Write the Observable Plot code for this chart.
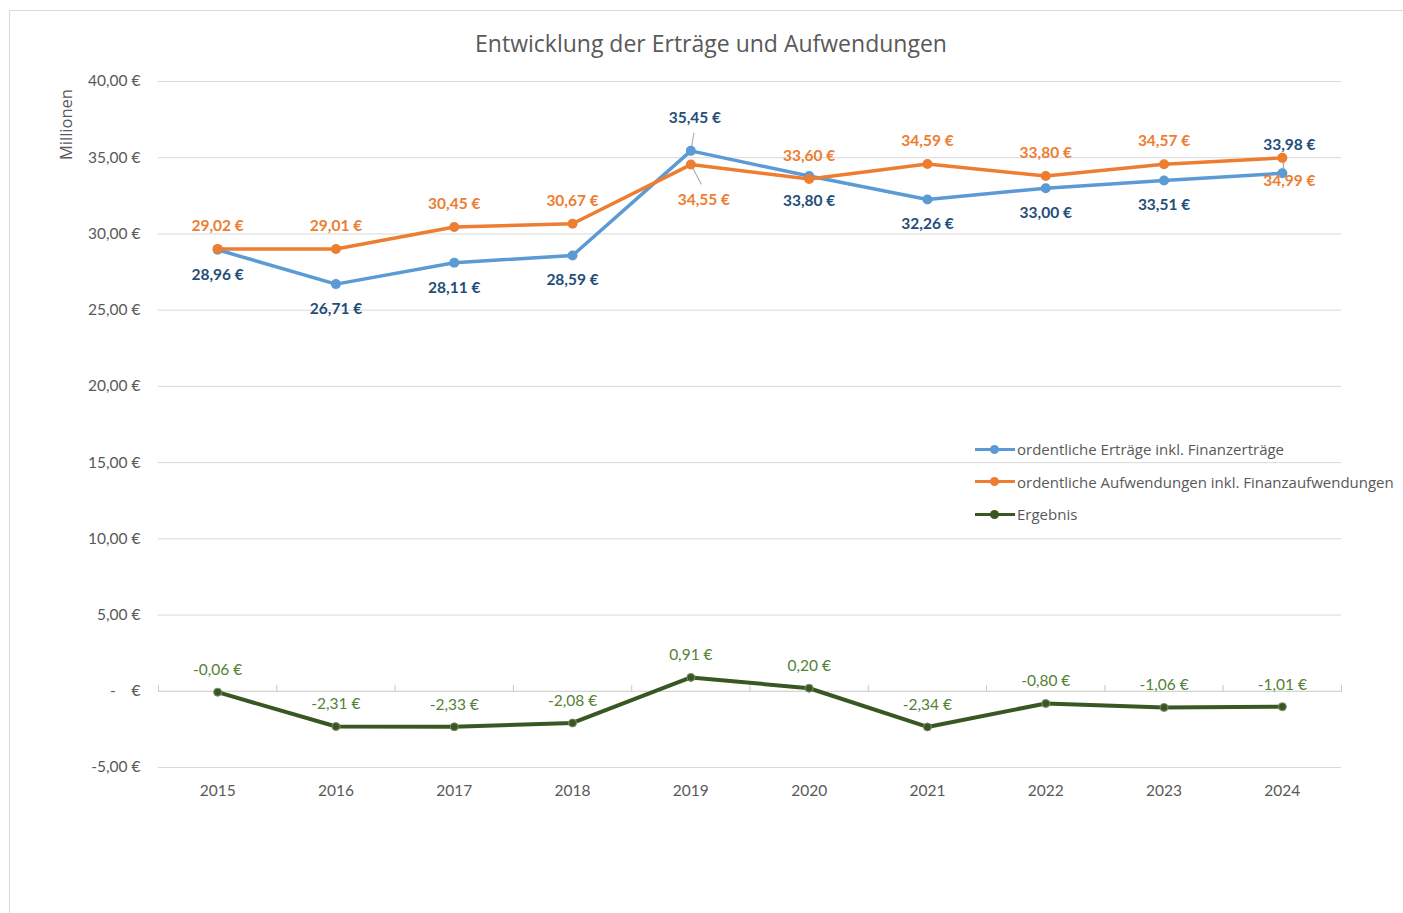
<!DOCTYPE html>
<html>
<head>
<meta charset="utf-8">
<script src="https://cdn.jsdelivr.net/npm/d3@7"></script>
<script src="https://cdn.jsdelivr.net/npm/@observablehq/plot@0.6"></script>
<style>
  html, body { margin: 0; padding: 0; background: #fff; }
  #wrap { position: relative; width: 1403px; height: 913px; overflow: hidden; font-family: "Open Sans", sans-serif; }
  #frame { position: absolute; left: 9px; top: 10px; width: 1400px; height: 910px; border: 1px solid #d9d9d9; box-sizing: border-box; }
  #title { position: absolute; left: 711px; top: 27px; transform: translateX(-50%); font-size: 23px; color: #595959; white-space: nowrap; line-height: 32px; }
  #chart { position: absolute; left: 0; top: 0; }
  #legend { position: absolute; left: 975px; top: 438px; font-family: "Open Sans", sans-serif; font-size: 15px; color: #595959; }
  .item { display: flex; align-items: center; height: 22px; margin-bottom: 10.5px; white-space: nowrap; }
  .sw { position: relative; width: 40px; height: 22px; margin-right: 2px; }
  .sw .ln { position: absolute; left: 0; top: 9.5px; width: 40px; height: 3px; }
  .sw .dt { position: absolute; left: 15px; top: 6.5px; width: 9px; height: 9px; border-radius: 50%; }
</style>
</head>
<body>
<div id="wrap">
  <div id="frame"></div>
  <div id="title">Entwicklung der Erträge und Aufwendungen</div>
  <div id="chart"></div>
  <div id="legend"></div>
</div>
<script>
// ---- data ----
const years = [2015, 2016, 2017, 2018, 2019, 2020, 2021, 2022, 2023, 2024];
const ertraege = [28.96, 26.71, 28.11, 28.59, 35.45, 33.80, 32.26, 33.00, 33.51, 33.98];
const aufwendungen = [29.02, 29.01, 30.45, 30.67, 34.55, 33.60, 34.59, 33.80, 34.57, 34.99];
const ergebnis = [-0.06, -2.31, -2.33, -2.08, 0.91, 0.20, -2.34, -0.80, -1.06, -1.01];
const yTicks = [-5, 0, 5, 10, 15, 20, 25, 30, 35, 40];
const seriesNames = [
  "ordentliche Erträge inkl. Finanzerträge",
  "ordentliche Aufwendungen inkl. Finanzaufwendungen",
  "Ergebnis"
];
// years where the two upper labels were moved manually (with leader lines)
const swappedYears = [2019, 2024];

// ---- styles / label nudges (pixels) ----
const C = {
  blue: "#5B9BD5", blueLabel: "#1F4E79",
  orange: "#ED7D31", orangeLabel: "#ED7D31",
  green: "#385723", greenLabel: "#548235",
  grid: "#d9d9d9", text: "#595959", leader: "#a6a6a6"
};
const nudges = {
  2019: {e: {dx: 4, dy: -33, len: 18, rot: 10}, a: {dx: 13, dy: 35, len: 22, rot: 152}},
  2024: {e: {dx: 7, dy: -28, len: 12, rot: 8}, a: {dx: 7, dy: 23, len: 12, rot: 172}}
};

const fmtNum = d3.formatLocale({decimal: ",", thousands: ".", grouping: [3], currency: ["", " €"], minus: "-"}).format(",.2f");
const money = v => fmtNum(v) + " €";
const tickFmt = v => v === 0 ? "-\u00a0\u00a0\u00a0\u00a0€" : money(v);

const rows = (vals, name) => years.map((year, i) => ({year, value: vals[i], name}));
const eRows = rows(ertraege, seriesNames[0]);
const aRows = rows(aufwendungen, seriesNames[1]);
const gRows = rows(ergebnis, seriesNames[2]);

const isSw = d => swappedYears.includes(d.year);
const boundaries = years.map(y => y - 0.5).concat([years[years.length - 1] + 0.5]);

const lineShape = {draw(ctx, l) { ctx.moveTo(0, 0); ctx.lineTo(0, -l); }};
const labelFont = {fontFamily: "Lato, sans-serif", fontSize: 15.5};
const axisFont = {fontFamily: "Lato, sans-serif", fontSize: 15.5};

const swappedMarks = swappedYears.flatMap(yr => {
  const n = nudges[yr];
  const e = eRows.filter(d => d.year === yr);
  const a = aRows.filter(d => d.year === yr);
  return [
    Plot.vector(e, {x: "year", y: "value", length: n.e.len, rotate: n.e.rot, anchor: "start", shape: lineShape, stroke: C.leader, strokeWidth: 1}),
    Plot.vector(a, {x: "year", y: "value", length: n.a.len, rotate: n.a.rot, anchor: "start", shape: lineShape, stroke: C.leader, strokeWidth: 1})
  ];
});
const swappedLabels = swappedYears.flatMap(yr => {
  const n = nudges[yr];
  return [
    Plot.text(eRows.filter(d => d.year === yr), {x: "year", y: "value", text: d => money(d.value), dx: n.e.dx, dy: n.e.dy, fill: C.blueLabel, fontWeight: "bold", ...labelFont}),
    Plot.text(aRows.filter(d => d.year === yr), {x: "year", y: "value", text: d => money(d.value), dx: n.a.dx, dy: n.a.dy, fill: C.orangeLabel, fontWeight: "bold", ...labelFont})
  ];
});

const plot = Plot.plot({
  width: 1403,
  height: 913,
  marginLeft: 158,
  marginRight: 62,
  marginTop: 81,
  marginBottom: 146,
  style: {fontFamily: "Lato, sans-serif", fontSize: "14px", color: C.text, background: "transparent"},
  x: {type: "linear", domain: [years[0] - 0.5, years[years.length - 1] + 0.5], axis: null},
  y: {domain: [-5, 40], axis: null},
  marks: [
    Plot.ruleY(yTicks, {stroke: v => v === 0 ? "#c8c8c8" : C.grid, strokeWidth: 1}),
    Plot.vector(boundaries, {x: d => d, y: 0, length: 6, rotate: 0, anchor: "start", shape: lineShape, stroke: "#c8c8c8", strokeWidth: 1}),
    // y axis labels
    Plot.text(yTicks, {x: years[0] - 0.5, y: d => d, text: tickFmt, textAnchor: "end", dx: -18, fill: C.text, ...axisFont}),
    // x axis labels
    Plot.text(years, {x: d => d, frameAnchor: "bottom", text: d => String(d), dy: 28, fill: C.text, ...axisFont}),
    // y axis title
    Plot.text(["Millionen"], {frameAnchor: "top-left", text: d => d, rotate: -90, textAnchor: "middle", lineAnchor: "middle", dx: -92, dy: 43, fill: C.text, fontSize: 16.5, fontFamily: "Open Sans, sans-serif"}),
    // lines
    Plot.line(eRows, {x: "year", y: "value", stroke: C.blue, strokeWidth: 3.5}),
    Plot.line(aRows, {x: "year", y: "value", stroke: C.orange, strokeWidth: 3.5}),
    Plot.line(gRows, {x: "year", y: "value", stroke: C.green, strokeWidth: 4}),
    // leader lines
    ...swappedMarks,
    // dots
    Plot.dot(eRows, {x: "year", y: "value", r: 5, fill: C.blue}),
    Plot.dot(aRows, {x: "year", y: "value", r: 5, fill: C.orange}),
    Plot.dot(gRows, {x: "year", y: "value", r: 4, fill: C.green, stroke: "#7f8f70", strokeWidth: 1}),
    // data labels
    Plot.text(eRows.filter(d => !isSw(d)), {x: "year", y: "value", text: d => money(d.value), dy: 25, fill: C.blueLabel, fontWeight: "bold", ...labelFont}),
    Plot.text(aRows.filter(d => !isSw(d)), {x: "year", y: "value", text: d => money(d.value), dy: -23, fill: C.orangeLabel, fontWeight: "bold", ...labelFont}),
    ...swappedLabels,
    Plot.text(gRows, {x: "year", y: "value", text: d => money(d.value), dy: -22, fill: C.greenLabel, ...labelFont})
  ]
});
document.getElementById("chart").appendChild(plot);

// legend
const legendColors = [C.blue, C.orange, C.green];
const legend = document.getElementById("legend");
seriesNames.forEach((name, i) => {
  const item = document.createElement("div");
  item.className = "item";
  item.innerHTML = `<div class="sw"><div class="ln" style="background:${legendColors[i]}"></div><div class="dt" style="background:${legendColors[i]}"></div></div><span>${name}</span>`;
  legend.appendChild(item);
});
</script>
</body>
</html>
